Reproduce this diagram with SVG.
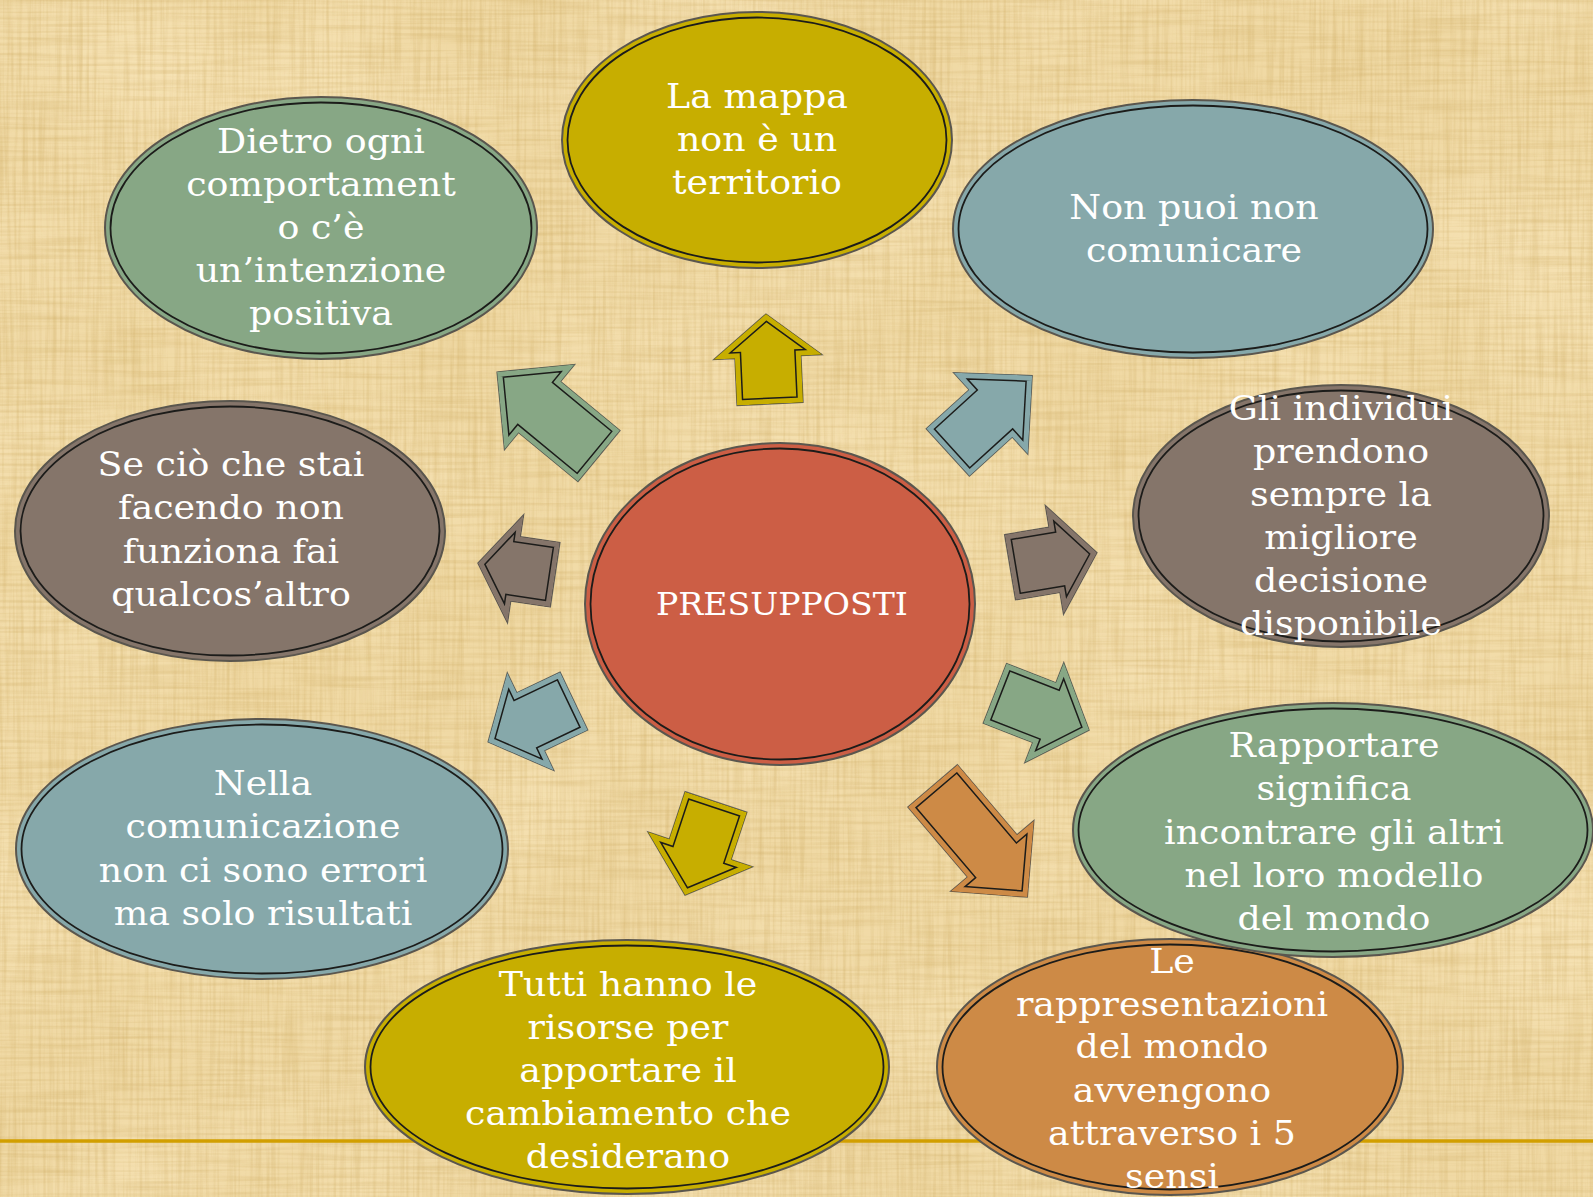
<svg xmlns="http://www.w3.org/2000/svg" xmlns:xlink="http://www.w3.org/1999/xlink" width="1593" height="1197" viewBox="0 0 1593 1197">
<style>
.t{font-family:"DejaVu Serif","Liberation Serif",serif;font-size:34px;fill:#ffffff;text-anchor:middle;}
.tc{font-family:"DejaVu Serif","Liberation Serif",serif;font-size:31px;fill:#ffffff;text-anchor:middle;}
.eo{stroke:#5a564e;stroke-width:2;}
.ei{fill:none;stroke:#1c1c1a;stroke-width:1.8;}
.ao{stroke:#66645d;stroke-width:1.4;stroke-linejoin:miter;}
.ad{fill:none;stroke:#1c1c1a;stroke-width:13;stroke-linejoin:miter;}
.olive{fill:#C7AE00;}
.green{fill:#87A785;}
.blue{fill:#86A8AA;}
.brown{fill:#85756A;}
.orange{fill:#CD8A46;}
.red{fill:#CC5E45;}
.sOlive{fill:none;stroke:#C7AE00;stroke-width:10;}
.sGreen{fill:none;stroke:#87A785;stroke-width:10;}
.sBlue{fill:none;stroke:#86A8AA;stroke-width:10;}
.sBrown{fill:none;stroke:#85756A;stroke-width:10;}
.sOrange{fill:none;stroke:#CD8A46;stroke-width:10;}
</style>
<defs>
<filter id="grain" x="0" y="0" width="1593" height="1197" filterUnits="userSpaceOnUse" color-interpolation-filters="sRGB">
<feTurbulence type="fractalNoise" baseFrequency="0.005" numOctaves="2" seed="8" result="n3"/>
<feColorMatrix in="n3" type="matrix" values="0 0 0 0 1  0 0 0 0 0.94  0 0 0 0 0.8  0.8 0 0 0 -0.28" result="c3"/>
<feTurbulence type="fractalNoise" baseFrequency="0.3 0.01" numOctaves="2" seed="2" result="n1"/>
<feColorMatrix in="n1" type="matrix" values="0 0 0 0 0.78  0 0 0 0 0.64  0 0 0 0 0.34  0.6 0 0 0 -0.24" result="c1"/>
<feTurbulence type="fractalNoise" baseFrequency="0.01 0.3" numOctaves="2" seed="5" result="n2"/>
<feColorMatrix in="n2" type="matrix" values="0 0 0 0 0.78  0 0 0 0 0.64  0 0 0 0 0.34  0.6 0 0 0 -0.24" result="c2"/>
<feMerge><feMergeNode in="c3"/><feMergeNode in="c1"/><feMergeNode in="c2"/></feMerge>
</filter>
<polygon id="a1" points="-45,-33 2,-33 2,-54 45,0 2,54 2,33 -45,33"/>
<polygon id="a2" points="-66,-33 11,-33 11,-55 66,0 11,55 11,33 -66,33"/>
<polygon id="a3" points="-57,-32 1,-32 1,-55 57,0 1,55 1,32 -57,32"/>
<polygon id="a4" points="-44,-33 1,-33 1,-55 44,0 1,55 1,33 -44,33"/>
<polygon id="a5" points="-39,-32.5 1,-32.5 1,-54.5 39,0 1,54.5 1,32.5 -39,32.5"/>
<polygon id="a6" points="-47.5,-32 0.5,-32 0.5,-54 47.5,0 0.5,54 0.5,32 -47.5,32"/>
<polygon id="a7" points="-49,-32.5 1,-32.5 1,-55 49,0 1,55 1,32.5 -49,32.5"/>
<polygon id="a8" points="-73,-32.5 19,-32.5 19,-54.5 73,0 19,54.5 19,32.5 -73,32.5"/>
<polygon id="a9" points="-50.5,-32 2.5,-32 2.5,-53.5 50.5,0 2.5,53.5 2.5,32 -50.5,32"/>
<clipPath id="c1"><use xlink:href="#a1"/></clipPath>
<clipPath id="c2"><use xlink:href="#a2"/></clipPath>
<clipPath id="c3"><use xlink:href="#a3"/></clipPath>
<clipPath id="c4"><use xlink:href="#a4"/></clipPath>
<clipPath id="c5"><use xlink:href="#a5"/></clipPath>
<clipPath id="c6"><use xlink:href="#a6"/></clipPath>
<clipPath id="c7"><use xlink:href="#a7"/></clipPath>
<clipPath id="c8"><use xlink:href="#a8"/></clipPath>
<clipPath id="c9"><use xlink:href="#a9"/></clipPath>
</defs>

<g id="background">
<rect x="0" y="0" width="1593" height="1197" fill="#F0D9A4"/>
<rect x="0" y="0" width="1593" height="1197" filter="url(#grain)"/>
<line x1="0" y1="1141" x2="1593" y2="1141" stroke="#D29F00" stroke-width="3.5"/>
</g>

<g id="connectors">
<g id="arrow-up" transform="translate(768 359) rotate(-92.6)"><use xlink:href="#a1" class="olive ao"/><g clip-path="url(#c1)"><use xlink:href="#a1" class="ad"/><use xlink:href="#a1" class="sOlive"/></g></g>
<g id="arrow-upleft" transform="translate(548 414) rotate(-140.5)"><use xlink:href="#a2" class="green ao"/><g clip-path="url(#c2)"><use xlink:href="#a2" class="ad"/><use xlink:href="#a2" class="sGreen"/></g></g>
<g id="arrow-upright" transform="translate(990 414) rotate(-42.3)"><use xlink:href="#a3" class="blue ao"/><g clip-path="url(#c3)"><use xlink:href="#a3" class="ad"/><use xlink:href="#a3" class="sBlue"/></g></g>
<g id="arrow-right" transform="translate(1053.5 560) rotate(-9.5)"><use xlink:href="#a4" class="brown ao"/><g clip-path="url(#c4)"><use xlink:href="#a4" class="ad"/><use xlink:href="#a4" class="sBrown"/></g></g>
<g id="arrow-left" transform="translate(516.5 569) rotate(-171.5)"><use xlink:href="#a5" class="brown ao"/><g clip-path="url(#c5)"><use xlink:href="#a5" class="ad"/><use xlink:href="#a5" class="sBrown"/></g></g>
<g id="arrow-downleft" transform="translate(531 721.5) rotate(154.5)"><use xlink:href="#a6" class="blue ao"/><g clip-path="url(#c6)"><use xlink:href="#a6" class="ad"/><use xlink:href="#a6" class="sBlue"/></g></g>
<g id="arrow-down" transform="translate(700.5 848.5) rotate(108.4)"><use xlink:href="#a7" class="olive ao"/><g clip-path="url(#c7)"><use xlink:href="#a7" class="ad"/><use xlink:href="#a7" class="sOlive"/></g></g>
<g id="arrow-downright" transform="translate(980 841.5) rotate(49.6)"><use xlink:href="#a8" class="orange ao"/><g clip-path="url(#c8)"><use xlink:href="#a8" class="ad"/><use xlink:href="#a8" class="sOrange"/></g></g>
<g id="arrow-lowright" transform="translate(1042 711.7) rotate(21.3)"><use xlink:href="#a9" class="green ao"/><g clip-path="url(#c9)"><use xlink:href="#a9" class="ad"/><use xlink:href="#a9" class="sGreen"/></g></g>
</g>

<g id="node-center">
<ellipse cx="780" cy="604" rx="195" ry="161" class="red eo"/>
<ellipse cx="780" cy="604" rx="189.5" ry="155.5" class="ei"/>
<text class="tc" transform="translate(782 0) scale(1.07 1)"><tspan x="0" y="615">PRESUPPOSTI</tspan></text>
</g>

<g id="node-mappa">
<ellipse cx="757" cy="140" rx="195" ry="128" class="olive eo"/>
<ellipse cx="757" cy="140" rx="189.5" ry="122.5" class="ei"/>
<text class="t" transform="translate(757 0) scale(1.07 1)"><tspan x="0" y="108">La mappa</tspan><tspan x="0" y="151">non è un</tspan><tspan x="0" y="194">territorio</tspan></text>
</g>

<g id="node-dietro">
<ellipse cx="321" cy="228" rx="216" ry="131" class="green eo"/>
<ellipse cx="321" cy="228" rx="210.5" ry="125.5" class="ei"/>
<text class="t" transform="translate(321 0) scale(1.07 1)"><tspan x="0" y="153">Dietro ogni</tspan><tspan x="0" y="196">comportament</tspan><tspan x="0" y="239">o c’è</tspan><tspan x="0" y="282">un’intenzione</tspan><tspan x="0" y="325">positiva</tspan></text>
</g>

<g id="node-comunicare">
<ellipse cx="1193" cy="229" rx="240" ry="129" class="blue eo"/>
<ellipse cx="1193" cy="229" rx="234.5" ry="123.5" class="ei"/>
<text class="t" transform="translate(1194 0) scale(1.07 1)"><tspan x="0" y="219">Non puoi non</tspan><tspan x="0" y="262">comunicare</tspan></text>
</g>

<g id="node-individui">
<ellipse cx="1341" cy="516" rx="208" ry="131" class="brown eo"/>
<ellipse cx="1341" cy="516" rx="202.5" ry="125.5" class="ei"/>
<text class="t" transform="translate(1341 0) scale(1.07 1)"><tspan x="0" y="420">Gli individui</tspan><tspan x="0" y="463">prendono</tspan><tspan x="0" y="506">sempre la</tspan><tspan x="0" y="549">migliore</tspan><tspan x="0" y="592">decisione</tspan><tspan x="0" y="635">disponibile</tspan></text>
</g>

<g id="node-funziona">
<ellipse cx="230" cy="531" rx="215" ry="130" class="brown eo"/>
<ellipse cx="230" cy="531" rx="209.5" ry="124.5" class="ei"/>
<text class="t" transform="translate(231 0) scale(1.07 1)"><tspan x="0" y="476">Se ciò che stai</tspan><tspan x="0" y="519">facendo non</tspan><tspan x="0" y="563">funziona fai</tspan><tspan x="0" y="606">qualcos’altro</tspan></text>
</g>

<g id="node-errori">
<ellipse cx="262" cy="849" rx="246" ry="130" class="blue eo"/>
<ellipse cx="262" cy="849" rx="240.5" ry="124.5" class="ei"/>
<text class="t" transform="translate(263 0) scale(1.07 1)"><tspan x="0" y="795">Nella</tspan><tspan x="0" y="838">comunicazione</tspan><tspan x="0" y="882">non ci sono errori</tspan><tspan x="0" y="925">ma solo risultati</tspan></text>
</g>

<g id="node-sensi">
<ellipse cx="1170" cy="1067" rx="233" ry="128" class="orange eo"/>
<ellipse cx="1170" cy="1067" rx="227.5" ry="122.5" class="ei"/>
<text class="t" transform="translate(1172 0) scale(1.07 1)"><tspan x="0" y="973">Le</tspan><tspan x="0" y="1016">rappresentazioni</tspan><tspan x="0" y="1058">del mondo</tspan><tspan x="0" y="1102">avvengono</tspan><tspan x="0" y="1145">attraverso i 5</tspan><tspan x="0" y="1188">sensi</tspan></text>
</g>

<g id="node-rapportare">
<ellipse cx="1333" cy="830" rx="260" ry="127" class="green eo"/>
<ellipse cx="1333" cy="830" rx="254.5" ry="121.5" class="ei"/>
<text class="t" transform="translate(1334 0) scale(1.07 1)"><tspan x="0" y="757">Rapportare</tspan><tspan x="0" y="800">significa</tspan><tspan x="0" y="844">incontrare gli altri</tspan><tspan x="0" y="887">nel loro modello</tspan><tspan x="0" y="930">del mondo</tspan></text>
</g>

<g id="node-risorse">
<ellipse cx="627" cy="1067" rx="262" ry="127" class="olive eo"/>
<ellipse cx="627" cy="1067" rx="256.5" ry="121.5" class="ei"/>
<text class="t" transform="translate(628 0) scale(1.07 1)"><tspan x="0" y="996">Tutti hanno le</tspan><tspan x="0" y="1039">risorse per</tspan><tspan x="0" y="1082">apportare il</tspan><tspan x="0" y="1125">cambiamento che</tspan><tspan x="0" y="1168">desiderano</tspan></text>
</g>
</svg>
